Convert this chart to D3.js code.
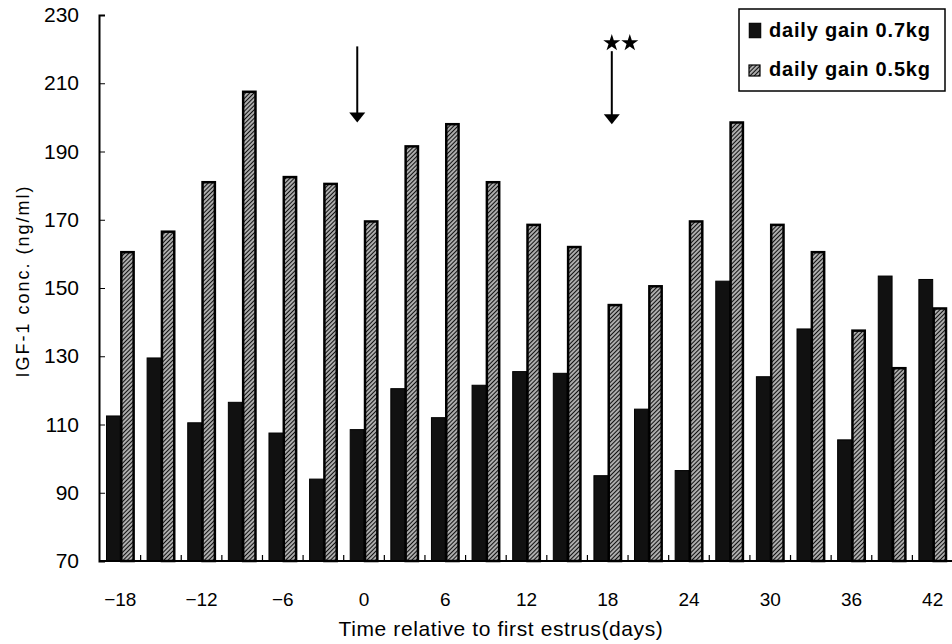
<!DOCTYPE html>
<head>
	<meta charset="utf-8">
	<script src="https://d3js.org/d3.v7.min.js"></script>
	<style>
		body { margin: 0; background: #fff; }
		text { font-family: "Liberation Sans", Arial, sans-serif; fill: #000; }
	</style>
</head>
<body>
	<script type="text/javascript">

		// data
		var days = [-18, -15, -12, -9, -6, -3, 0, 3, 6, 9, 12, 15, 18, 21, 24, 27, 30, 33, 36, 39, 42];
		var gain07 = [112.5, 129.5, 110.5, 116.5, 107.5, 94, 108.5, 120.5, 112, 121.5, 125.5, 125, 95, 114.5, 96.5, 152, 124, 138, 105.5, 153.5, 152.5];
		var gain05 = [160.5, 166.5, 181, 207.5, 182.5, 180.5, 169.5, 191.5, 198, 181, 168.5, 162, 145, 150.5, 169.5, 198.5, 168.5, 160.5, 137.5, 126.5, 144];
		var seriesNames = ["daily gain 0.7kg", "daily gain 0.5kg"];
		var xTickDays = [-18, -12, -6, 0, 6, 12, 18, 24, 30, 36, 42];
		var yTicks = [70, 90, 110, 130, 150, 170, 190, 210, 230];
		// arrows: day position, value at top, value at tip
		var arrowDays = [-0.5, 18.3];
		var arrowTop = [220.8, 219.4];
		var arrowTip = [198.5, 198];

		var w = 952;
		var h = 644;
		var svg = d3.select("body")
				.append("svg")
				.attr("width", w)
				.attr("height", h);

		var defs = svg.append("defs");
		var pat = defs.append("pattern")
				.attr("id", "hatch")
				.attr("patternUnits", "userSpaceOnUse")
				.attr("width", 3)
				.attr("height", 3)
				.attr("patternTransform", "rotate(45)");
		pat.append("rect").attr("width", 3).attr("height", 3).attr("fill", "#fff");
		pat.append("line")
				.attr("x1", 1.5).attr("y1", 0).attr("x2", 1.5).attr("y2", 3)
				.attr("stroke", "#111").attr("stroke-width", 1.7);

		var x0 = 99, x1 = 952, yTop = 15, yBot = 561;

		var xScale = d3.scaleBand()
				.domain(days)
				.range([x0 + 1, x1 + 1]);

		var xInner = d3.scaleBand()
				.domain([0, 1])
				.range([0, xScale.bandwidth()])
				.paddingOuter(0.47)
				.paddingInner(0);

		var yScale = d3.scaleLinear()
				.domain([70, 230])
				.range([yBot, yTop]);

		// day -> pixel, linear between category centres
		var dayScale = d3.scaleLinear()
				.domain([-18, 42])
				.range([xScale(-18) + xScale.bandwidth() / 2, xScale(42) + xScale.bandwidth() / 2]);

		var rows = days.map(function(d, i) {
			return {day: d, v: [gain07[i], gain05[i]]};
		});

		var groups = svg.selectAll("g.cat")
				.data(rows)
				.enter()
				.append("g")
				.attr("class", "cat")
				.attr("transform", function(d) { return "translate(" + xScale(d.day) + ",0)"; });

		groups.selectAll("rect")
				.data(function(d) { return d.v.map(function(v, k) { return {k: k, v: v}; }); })
				.enter()
				.append("rect")
				.attr("x", function(d) { return xInner(d.k) + (d.k === 0 ? 0 : 1); })
				.attr("y", function(d) { return yScale(d.v); })
				.attr("width", function(d) { return xInner.bandwidth() - (d.k === 0 ? 0 : 1.5); })
				.attr("height", function(d) { return yBot - yScale(d.v); })
				.attr("fill", function(d) { return d.k === 0 ? "#111" : "url(#hatch)"; })
				.attr("stroke", "#000")
				.attr("stroke-width", function(d) { return d.k === 0 ? 1 : 2.5; });

		// axes
		var yAxis = d3.axisLeft(yScale)
				.tickValues(yTicks)
				.tickSize(-6)
				.tickPadding(20);
		var gy = svg.append("g")
				.attr("transform", "translate(" + x0 + ",0)")
				.call(yAxis);
		gy.select(".domain").attr("stroke-width", 2);
		gy.selectAll("text").attr("font-size", 21);

		var gx = svg.append("g")
				.attr("transform", "translate(0," + yBot + ")");
		gx.append("line")
				.attr("x1", x0).attr("x2", x1)
				.attr("stroke", "#000").attr("stroke-width", 2);
		// small inner ticks at category boundaries
		gx.selectAll("line.bound")
				.data(days.slice(1))
				.enter()
				.append("line")
				.attr("class", "bound")
				.attr("x1", function(d) { return xScale(d); })
				.attr("x2", function(d) { return xScale(d); })
				.attr("y1", 0).attr("y2", -6)
				.attr("stroke", "#000").attr("stroke-width", 1.2);
		gx.selectAll("text.tl")
				.data(xTickDays)
				.enter()
				.append("text")
				.attr("class", "tl")
				.attr("x", function(d) { return dayScale(d); })
				.attr("y", 45)
				.attr("text-anchor", "middle")
				.attr("font-size", 19)
				.text(function(d) { return d3.format("d")(d); });

		svg.append("text")
				.attr("x", 501)
				.attr("y", 636)
				.attr("text-anchor", "middle")
				.attr("font-size", 21)
				.attr("letter-spacing", 0.6)
				.text("Time relative to first estrus(days)");

		svg.append("text")
				.attr("transform", "translate(29,281) rotate(-90)")
				.attr("text-anchor", "middle")
				.attr("font-size", 18)
				.attr("letter-spacing", 2)
				.text("IGF-1 conc. (ng/ml)");

		// arrows
		arrowDays.forEach(function(d, i) {
			var ax = dayScale(d);
			var tip = yScale(arrowTip[i]);
			svg.append("line")
					.attr("x1", ax).attr("x2", ax)
					.attr("y1", yScale(arrowTop[i])).attr("y2", tip - 8)
					.attr("stroke", "#000").attr("stroke-width", 2);
			svg.append("path")
					.attr("d", "M" + (ax - 8) + "," + (tip - 10) + "L" + (ax + 8) + "," + (tip - 10) + "L" + ax + "," + tip + "Z")
					.attr("fill", "#000");
		});

		// significance stars over the second arrow
		var starX = [dayScale(arrowDays[1]), dayScale(arrowDays[1]) + 18];
		svg.selectAll("path.star")
				.data(starX)
				.enter()
				.append("path")
				.attr("class", "star")
				.attr("d", d3.symbol().type(d3.symbolStar).size(90))
				.attr("transform", function(d) { return "translate(" + d + "," + yScale(221.8) + ")"; })
				.attr("fill", "#000");

		// legend
		var lg = svg.append("g").attr("transform", "translate(739,9)");
		lg.append("rect")
				.attr("width", 206).attr("height", 82)
				.attr("fill", "#fff").attr("stroke", "#000").attr("stroke-width", 1.5);
		var items = lg.selectAll("g.item")
				.data(seriesNames)
				.enter()
				.append("g")
				.attr("class", "item")
				.attr("transform", function(d, i) { return "translate(10," + (14 + i * 39) + ")"; });
		items.append("rect")
				.attr("width", function(d, i) { return i === 0 ? 12 : 11; })
				.attr("height", function(d, i) { return i === 0 ? 15 : 11; })
				.attr("y", function(d, i) { return i === 0 ? 0 : 3; })
				.attr("fill", function(d, i) { return i === 0 ? "#111" : "url(#hatch)"; })
				.attr("stroke", "#000")
				.attr("stroke-width", function(d, i) { return i === 0 ? 0.5 : 1.2; });
		items.append("text")
				.attr("x", 20)
				.attr("y", 14)
				.attr("font-size", 20)
				.attr("font-weight", "bold")
				.attr("letter-spacing", 0.8)
				.text(function(d) { return d; });

	</script>
</body>
